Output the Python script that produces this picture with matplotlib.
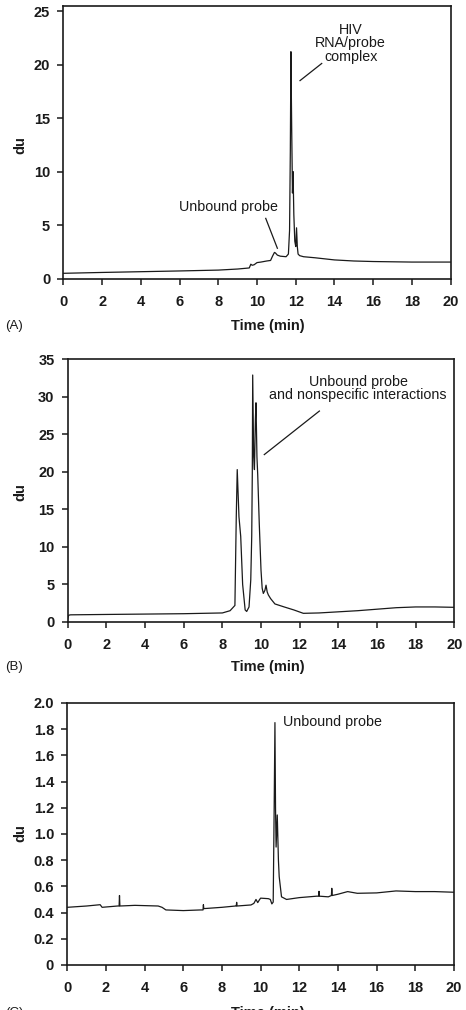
import numpy as np
import matplotlib
matplotlib.use("Agg")
import matplotlib.pyplot as plt

plt.rcParams["font.family"] = ["Liberation Sans", "DejaVu Sans"]

# Panel A: HIV RNA/probe complex
time_a = [0.0, 2.0, 4.0, 6.0, 8.0, 9.0, 9.6, 9.68, 9.75, 9.85, 10.0, 10.2, 10.5,
          10.7, 10.8, 10.9, 10.95, 11.05, 11.2, 11.5, 11.62, 11.68, 11.72, 11.75,
          11.79, 11.83, 11.86, 11.9, 11.95, 12.0, 12.04, 12.08, 12.12, 12.2,
          12.4, 13.0, 14.0, 15.0, 16.0, 18.0, 20.0]
du_a = [0.5, 0.58, 0.65, 0.72, 0.8, 0.9, 1.0, 1.35, 1.25, 1.3, 1.5, 1.55, 1.65,
        1.7, 2.1, 2.45, 2.4, 2.2, 2.1, 2.05, 2.3, 4.5, 12.0, 21.2,
        14.0, 8.0, 10.0, 6.0, 3.5, 3.0, 4.75, 3.0, 2.3, 2.15,
        2.05, 1.95, 1.75, 1.65, 1.6, 1.55, 1.55]

# Panel B: unbound probe and nonspecific interactions
time_b = [0.0, 0.05, 0.15, 2.0, 4.0, 6.0, 8.0, 8.4, 8.65, 8.72, 8.77, 8.86, 8.95,
          9.05, 9.18, 9.26, 9.38, 9.47, 9.52, 9.55, 9.57, 9.62, 9.66, 9.71,
          9.74, 9.79, 9.83, 9.91, 10.0, 10.06, 10.12, 10.2, 10.26, 10.32,
          10.38, 10.5, 10.72, 11.2, 11.7, 12.19, 13.0, 14.0, 15.0, 16.0, 17.0,
          18.0, 19.0, 20.0]
du_b = [0.4, 0.9, 0.95, 1.0, 1.05, 1.1, 1.2, 1.5, 2.2, 14.0, 20.3, 14.0, 11.4,
        5.0, 1.6, 1.4, 2.0, 5.6, 11.4, 20.0, 32.9, 22.0, 20.3, 27.0,
        29.2, 22.0, 19.6, 13.1, 6.9, 4.5, 3.8, 4.2, 4.9, 4.0,
        3.6, 3.1, 2.4, 2.0, 1.6, 1.15, 1.2, 1.35, 1.5, 1.7, 1.9,
        2.0, 2.0, 1.95]

# Panel C: unbound probe only
time_c = [0.0, 1.0, 1.7, 1.8, 2.6, 2.68, 2.7, 2.72, 3.5, 4.7, 4.9, 5.1, 6.0,
          6.9, 7.02, 7.04, 7.06, 8.0, 8.7, 8.74, 8.76, 8.78, 9.5, 9.65, 9.76,
          9.85, 9.95, 10.0, 10.4, 10.5, 10.58, 10.65, 10.7, 10.74, 10.77,
          10.8, 10.86, 10.92, 10.96, 11.08, 11.34, 12.0, 12.9, 13.0, 13.02,
          13.04, 13.5, 13.66, 13.68, 13.7, 14.0, 14.5, 15.0, 16.0, 17.0, 18.0,
          19.0, 20.0]
du_c = [0.44, 0.45, 0.46, 0.44, 0.45, 0.45, 0.53, 0.45, 0.455, 0.45, 0.44, 0.42,
        0.415, 0.42, 0.42, 0.46, 0.43, 0.44, 0.45, 0.45, 0.478, 0.45, 0.458, 0.47,
        0.50, 0.476, 0.50, 0.51, 0.506, 0.50, 0.466, 0.48, 1.2, 1.85, 1.2,
        0.90, 1.145, 0.8, 0.674, 0.52, 0.50, 0.514, 0.525, 0.525, 0.562,
        0.525, 0.52, 0.53, 0.585, 0.53, 0.54, 0.56, 0.547, 0.55, 0.565, 0.56,
        0.56, 0.555]

x_ticks = np.arange(0, 21, 2)
y_ticks_a = [0, 5, 10, 15, 20, 25]
y_ticks_b = [0, 5, 10, 15, 20, 25, 30, 35]
y_ticks_c = [0, 0.2, 0.4, 0.6, 0.8, 1.0, 1.2, 1.4, 1.6, 1.8, 2.0]
y_labels_c = ["0", "0.2", "0.4", "0.6", "0.8", "1.0", "1.2", "1.4", "1.6", "1.8", "2.0"]

ink = "#1a1a1a"
note_size = 10.3
fig = plt.figure(figsize=(4.66, 10.10), dpi=100)


def style(ax, ylim, yticks, ylabels=None):
    ax.set_xlim(0, 20)
    ax.set_ylim(*ylim)
    ax.set_xticks(x_ticks)
    ax.set_yticks(yticks)
    if ylabels is not None:
        ax.set_yticklabels(ylabels)
    for s in ax.spines.values():
        s.set_linewidth(1.2)
        s.set_color(ink)
    ax.tick_params(direction="out", length=4.5, width=1.1, color=ink,
                   labelsize=10.5, labelcolor=ink)
    ax.tick_params(axis="x", pad=7)
    ax.tick_params(axis="y", pad=5)
    for lab in ax.get_xticklabels() + ax.get_yticklabels():
        lab.set_fontweight("bold")


# (A)
ax_a = fig.add_axes([0.1359, 0.7241, 0.8313, 0.2703])
ax_a.plot(time_a, du_a, color=ink, lw=0.9)
style(ax_a, (0, 25.5), y_ticks_a)
ax_a.text(14.84, 22.0, "HIV\nRNA/probe\ncomplex", ha="center", va="center",
          fontsize=note_size, color=ink, linespacing=0.95)
ax_a.plot([13.34, 12.22], [20.1, 18.5], color=ink, lw=0.9)
ax_a.text(8.52, 6.66, "Unbound probe", ha="center", va="center",
          fontsize=note_size, color=ink)
ax_a.plot([10.45, 11.05], [5.63, 2.84], color=ink, lw=0.9)

# (B)
ax_b = fig.add_axes([0.1453, 0.3842, 0.8296, 0.2601])
ax_b.plot(time_b, du_b, color=ink, lw=0.9)
style(ax_b, (0, 35), y_ticks_b)
ax_b.text(15.03, 31.1, "Unbound probe\nand nonspecific interactions",
          ha="center", va="center", fontsize=note_size, color=ink,
          linespacing=0.95)
ax_b.plot([13.02, 10.17], [28.1, 22.3], color=ink, lw=0.9)

# (C)
ax_c = fig.add_axes([0.1444, 0.0446, 0.8298, 0.2594])
ax_c.plot(time_c, du_c, color=ink, lw=0.9)
style(ax_c, (0, 2.0), y_ticks_c, y_labels_c)
ax_c.text(11.14, 1.857, "Unbound probe", ha="left", va="center",
          fontsize=note_size, color=ink)

# axis titles and panel letters (the last row is cut by the page edge, as in the source)
for yc, yl, tag in [(0.6775, 0.8564, "(A)"), (0.3399, 0.5132, "(B)"),
                    (-0.003, 0.1749, "(C)")]:
    fig.text(0.575, yc, "Time (min)", ha="center", va="center",
             fontsize=10.5, fontweight="bold", color=ink)
    fig.text(0.01, yc, tag, ha="left", va="center", fontsize=9.5, color=ink)
    fig.text(0.043, yl, "du", ha="center", va="center", rotation=90,
             fontsize=10.5, fontweight="bold", color=ink)

fig.savefig("out.png", dpi=100)
